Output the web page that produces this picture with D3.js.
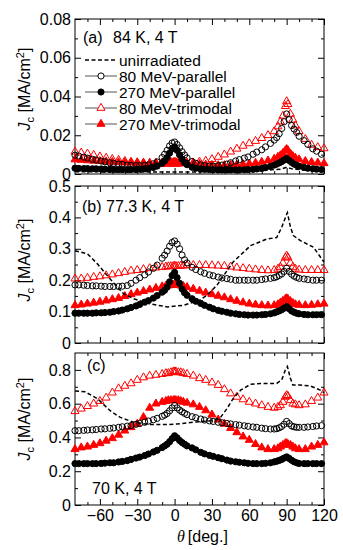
<!DOCTYPE html>
<html>
<head>
<meta charset="utf-8">
<script src="https://cdn.jsdelivr.net/npm/d3@7"></script>
<style>
  body { margin: 0; background: #fff; }
  svg { display: block; font-family: Arial, "Liberation Sans", sans-serif; }
</style>
</head>
<body>
<div id="chart"></div>
<script>
// angles (deg) of the triangle series
const theta = [-80,-75,-70,-65,-60,-55,-50,-45,-40,-35,-30,-25,-20,-15,-10,-7,-5,-3,-1,0,1,3,5,7,10,
  15,20,25,30,35,40,45,50,55,60,65,70,75,80,83,85,87,89,90,91,93,95,97,100,105,110,115,120];
// angles (deg) of the circle series (measured more densely)
const thetaCirc = [-80,-77,-73,-70,-66,-63,-59,-56,-52,-49,-45,-42,-38,-35,-31,-28,-24,-21,-17,-14,-10,
  -8,-6,-4,-2,0,2,4,6,8,10,14,17,21,24,28,31,35,38,42,45,49,52,56,59,63,66,70,73,77,80,
  82,84,86,88,90,92,94,96,98,100,104,107,111,114,118];

const seriesNames = ["unirradiated", "80 MeV-parallel", "270 MeV-parallel", "80 MeV-trimodal", "270 MeV-trimodal"];

// (a) 84 K, 4 T
const a_unirrTheta = [-80,-40,0,40,70,85,90,95,120];
const a_unirr = [0.0012,0.001,0.001,0.0012,0.0018,0.0025,0.0035,0.0025,0.0015];
const a_p80 = [0.0097,0.0093,0.0087,0.0082,0.0076,0.0072,0.0067,0.0063,0.0058,0.0055,0.0051,0.0049,0.0046,0.0044,0.0043,0.0043,0.0045,0.0047,0.0053,0.0062,0.0085,
  0.0102,0.0122,0.0145,0.016,0.0165,0.0152,0.0135,0.0115,0.0098,0.0083,0.0064,0.0055,0.0047,0.0043,0.0041,0.0041,0.0043,0.0046,0.0051,0.0058,0.0067,0.0074,0.0082,0.0088,0.0102,0.0113,0.0125,0.014,0.0158,0.0175,
  0.0188,0.0208,0.0235,0.027,0.031,0.028,0.025,0.0232,0.0215,0.0195,0.0172,0.0153,0.013,0.0118,0.0102];
const a_p270 = [0.003,0.0029,0.0028,0.0028,0.0027,0.0027,0.0026,0.0025,0.0024,0.0024,0.0023,0.0023,0.0023,0.0023,0.0024,0.0025,0.0026,0.0029,0.0034,0.0041,0.0055,
  0.0068,0.0085,0.0108,0.013,0.014,0.0122,0.0099,0.0077,0.0059,0.0048,0.0035,0.003,0.0026,0.0024,0.0023,0.0022,0.0021,0.0021,0.0021,0.0021,0.0021,0.0021,0.0022,0.0023,0.0024,0.0026,0.0029,0.0033,0.0039,0.0046,
  0.0051,0.0057,0.0064,0.0072,0.008,0.007,0.006,0.0051,0.0045,0.004,0.0034,0.003,0.0027,0.0025,0.0023];
const a_t80 = [0.0115,0.011,0.0105,0.0098,0.009,0.0083,0.0077,0.0072,0.0067,0.0063,0.006,0.0057,0.0055,0.0054,0.0053,0.0053,0.0053,0.0053,0.0053,0.0053,0.0053,0.0053,0.0054,0.0055,0.0056,
  0.0059,0.0063,0.0068,0.0076,0.0088,0.01,0.0115,0.013,0.0145,0.0158,0.017,0.0185,0.02,0.022,0.0245,0.027,0.03,0.035,0.0375,0.036,0.031,0.028,0.025,0.022,0.018,0.015,0.0138,0.0132];
const a_t270 = [0.0075,0.0072,0.007,0.0068,0.0066,0.0064,0.0062,0.006,0.0059,0.0058,0.0057,0.0057,0.0057,0.0058,0.0059,0.006,0.006,0.0061,0.0061,0.0061,0.0061,0.006,0.006,0.0059,0.0057,
  0.0054,0.0051,0.0048,0.0046,0.0045,0.0045,0.0046,0.0048,0.005,0.0053,0.0057,0.0062,0.0069,0.0078,0.0088,0.0096,0.0108,0.0122,0.0128,0.0122,0.0105,0.0092,0.0083,0.0075,0.0066,0.0061,0.0058,0.0055];

// (b) 77.3 K, 4 T
const b_unirrTheta = [-80,-70,-62,-52,-46,-41,-33,-20,-6,7,20,26,34,47,61,74,82,86,89.5,90.6,93,95.4,101,111.5,120];
const b_unirr = [0.294,0.284,0.252,0.205,0.178,0.157,0.141,0.125,0.115,0.12,0.136,0.152,0.184,0.258,0.31,0.331,0.336,0.368,0.405,0.415,0.37,0.342,0.326,0.305,0.258];
const b_p80 = [0.185,0.185,0.184,0.183,0.182,0.182,0.181,0.18,0.18,0.18,0.18,0.181,0.183,0.19,0.2,0.208,0.217,0.226,0.238,0.248,0.27,
  0.28,0.293,0.308,0.32,0.325,0.315,0.3,0.28,0.265,0.255,0.241,0.234,0.227,0.222,0.217,0.214,0.21,0.207,0.205,0.203,0.2,0.2,0.2,0.2,0.2,0.2,0.202,0.204,0.206,0.208,
  0.211,0.215,0.22,0.228,0.238,0.228,0.219,0.213,0.209,0.206,0.204,0.202,0.2,0.2,0.2];
const b_p270 = [0.095,0.095,0.095,0.095,0.095,0.096,0.096,0.097,0.098,0.1,0.102,0.105,0.109,0.113,0.118,0.123,0.13,0.135,0.143,0.151,0.162,
  0.168,0.178,0.195,0.215,0.225,0.208,0.19,0.172,0.16,0.152,0.141,0.133,0.126,0.12,0.114,0.109,0.104,0.101,0.098,0.095,0.093,0.091,0.09,0.089,0.089,0.089,0.09,0.091,0.093,0.096,
  0.099,0.102,0.106,0.111,0.116,0.109,0.102,0.098,0.095,0.093,0.091,0.09,0.09,0.09,0.09];
const b_t80 = [0.205,0.205,0.207,0.21,0.212,0.215,0.218,0.222,0.226,0.23,0.232,0.235,0.238,0.24,0.242,0.243,0.244,0.244,0.245,0.245,0.245,0.245,0.246,0.246,0.247,
  0.248,0.248,0.248,0.247,0.246,0.245,0.243,0.24,0.238,0.236,0.234,0.232,0.231,0.232,0.236,0.242,0.255,0.272,0.278,0.272,0.255,0.242,0.236,0.233,0.232,0.232,0.232,0.232];
const b_t270 = [0.12,0.122,0.125,0.128,0.131,0.135,0.139,0.143,0.149,0.155,0.16,0.165,0.17,0.175,0.18,0.182,0.183,0.184,0.185,0.185,0.185,0.184,0.183,0.181,0.178,
  0.172,0.166,0.16,0.155,0.15,0.145,0.139,0.134,0.129,0.125,0.122,0.12,0.119,0.12,0.123,0.128,0.134,0.14,0.142,0.14,0.133,0.127,0.123,0.121,0.12,0.121,0.123,0.125];

// (c) 70 K, 4 T
const c_unirrTheta = [-80,-72,-62,-52,-44,-33,-20,-7,2,15,31,37,42,47,53,61,69,82,86,89,90.6,93,95,101,109,117,120];
const c_unirr = [0.675,0.67,0.63,0.56,0.52,0.49,0.476,0.476,0.48,0.49,0.5,0.52,0.57,0.63,0.68,0.715,0.72,0.72,0.74,0.8,0.82,0.75,0.71,0.71,0.705,0.68,0.665];
const c_p80 = [0.44,0.44,0.442,0.444,0.445,0.447,0.45,0.451,0.454,0.456,0.46,0.463,0.467,0.47,0.478,0.483,0.49,0.497,0.505,0.513,0.525,
  0.532,0.542,0.558,0.575,0.59,0.575,0.562,0.552,0.543,0.535,0.523,0.517,0.509,0.503,0.498,0.495,0.49,0.487,0.483,0.48,0.476,0.473,0.469,0.466,0.462,0.46,0.455,0.452,0.45,0.45,
  0.452,0.457,0.465,0.478,0.495,0.482,0.468,0.463,0.46,0.46,0.46,0.462,0.465,0.468,0.47];
const c_p270 = [0.245,0.245,0.245,0.245,0.245,0.245,0.246,0.248,0.25,0.25,0.255,0.258,0.263,0.27,0.278,0.284,0.293,0.302,0.314,0.324,0.34,
  0.35,0.36,0.375,0.393,0.41,0.398,0.382,0.37,0.36,0.35,0.338,0.327,0.312,0.303,0.294,0.288,0.28,0.274,0.266,0.26,0.256,0.253,0.25,0.247,0.245,0.245,0.245,0.247,0.25,0.255,
  0.259,0.264,0.27,0.278,0.285,0.276,0.265,0.256,0.25,0.246,0.245,0.245,0.245,0.245,0.245];
const c_t80 = [0.555,0.57,0.585,0.6,0.615,0.635,0.665,0.69,0.705,0.72,0.74,0.755,0.765,0.77,0.775,0.78,0.78,0.785,0.79,0.79,0.79,0.785,0.785,0.78,0.775,
  0.765,0.75,0.74,0.725,0.71,0.685,0.66,0.64,0.625,0.61,0.6,0.59,0.58,0.575,0.58,0.59,0.61,0.64,0.65,0.645,0.62,0.6,0.595,0.59,0.595,0.615,0.635,0.665];
const c_t270 = [0.33,0.34,0.345,0.355,0.365,0.38,0.395,0.415,0.44,0.46,0.48,0.52,0.575,0.6,0.61,0.615,0.62,0.62,0.62,0.62,0.62,0.62,0.615,0.61,0.605,
  0.595,0.58,0.56,0.535,0.505,0.48,0.455,0.43,0.405,0.385,0.36,0.34,0.33,0.33,0.335,0.345,0.355,0.365,0.365,0.36,0.355,0.345,0.335,0.33,0.33,0.345,0.355,0.37];

// ticks
const xTicks = [-60,-30,0,30,60,90,120];
const xMinor = [-70,-50,-40,-20,-10,10,20,40,50,70,80,100,110];
const yTicksA = [0,0.02,0.04,0.06,0.08], yMinorA = [0.01,0.03,0.05,0.07];
const yTicksB = [0,0.1,0.2,0.3,0.4,0.5], yMinorB = [0.05,0.15,0.25,0.35,0.45];
const yTicksC = [0,0.2,0.4,0.6,0.8], yMinorC = [0.1,0.3,0.5,0.7];

let width = 343, height = 550;
let left = 75, right = 324;

let svg = d3.select('#chart')
  .append('svg')
  .attr('width', width)
  .attr('height', height);

let xScale = d3.scaleLinear().domain([-80, 120]).range([left, right]);

const red = '#ff0000';

// panel layout
let panels = [
  {top: 19, bottom: 174, max: 0.08, ticks: yTicksA, minor: yMinorA, fmt: '.2f', labelY: 89,
   unirr: [a_unirrTheta, a_unirr], p80: a_p80, p270: a_p270, t80: a_t80, t270: a_t270},
  {top: 186, bottom: 343, max: 0.5, ticks: yTicksB, minor: yMinorB, fmt: '.1f', labelY: 260,
   unirr: [b_unirrTheta, b_unirr], p80: b_p80, p270: b_p270, t80: b_t80, t270: b_t270},
  {top: 353, bottom: 505, max: 0.9, ticks: yTicksC, minor: yMinorC, fmt: '.1f', labelY: 419,
   unirr: [c_unirrTheta, c_unirr], p80: c_p80, p270: c_p270, t80: c_t80, t270: c_t270}
];

function styleAxis(g) {
  g.select('.domain').remove();
  g.selectAll('line').attr('stroke', '#000');
  g.selectAll('text').attr('fill', '#000').style('font-size', '16px');
}

panels.forEach(function(p, idx) {
  let yScale = d3.scaleLinear().domain([0, p.max]).range([p.bottom, p.top]);
  let fmt = d => d === 0 ? '0' : d3.format(p.fmt)(d);

  // ticks, all pointing inward
  svg.append('g').attr('transform', `translate(${left},0)`)
    .call(d3.axisLeft(yScale).tickValues(p.ticks).tickSize(-6).tickPadding(4).tickFormat(fmt))
    .call(styleAxis);
  svg.append('g').attr('transform', `translate(${left},0)`)
    .call(d3.axisLeft(yScale).tickValues(p.minor).tickSize(-3).tickFormat(''))
    .call(styleAxis);
  svg.append('g').attr('transform', `translate(${right},0)`)
    .call(d3.axisRight(yScale).tickValues(p.ticks).tickSize(-6).tickFormat(''))
    .call(styleAxis);
  svg.append('g').attr('transform', `translate(${right},0)`)
    .call(d3.axisRight(yScale).tickValues(p.minor).tickSize(-3).tickFormat(''))
    .call(styleAxis);
  svg.append('g').attr('transform', `translate(0,${p.top})`)
    .call(d3.axisTop(xScale).tickValues(xTicks).tickSize(-6).tickFormat(''))
    .call(styleAxis);
  svg.append('g').attr('transform', `translate(0,${p.top})`)
    .call(d3.axisTop(xScale).tickValues(xMinor).tickSize(-3).tickFormat(''))
    .call(styleAxis);
  svg.append('g').attr('transform', `translate(0,${p.bottom})`)
    .call(d3.axisBottom(xScale).tickValues(xTicks).tickSize(-6).tickPadding(5)
      .tickFormat(idx === 2 ? d3.format('d') : ''))
    .call(styleAxis);
  svg.append('g').attr('transform', `translate(0,${p.bottom})`)
    .call(d3.axisBottom(xScale).tickValues(xMinor).tickSize(-3).tickFormat(''))
    .call(styleAxis);

  // frame
  svg.append('rect')
    .attr('x', left).attr('y', p.top)
    .attr('width', right - left).attr('height', p.bottom - p.top)
    .attr('fill', 'none').attr('stroke', '#000').attr('stroke-width', 1);

  let g = svg.append('g');

  // red triangles
  [[p.t80, false], [p.t270, true]].forEach(function(s) {
    g.selectAll(null)
      .data(d3.zip(theta, s[0]))
      .enter().append('path')
      .attr('d', d3.symbol(d3.symbolTriangle, 28))
      .attr('transform', d => `translate(${xScale(d[0])},${yScale(d[1])})`)
      .attr('fill', s[1] ? red : 'none')
      .attr('stroke', red)
      .attr('stroke-width', 1);
  });

  // black circles
  [[p.p80, false], [p.p270, true]].forEach(function(s) {
    g.selectAll(null)
      .data(d3.zip(thetaCirc, s[0]))
      .enter().append('circle')
      .attr('cx', d => xScale(d[0]))
      .attr('cy', d => yScale(d[1]))
      .attr('r', 3.1)
      .attr('fill', s[1] ? '#000' : 'none')
      .attr('stroke', '#000')
      .attr('stroke-width', 1);
  });

  // unirradiated, dashed line
  let line = d3.line().x(d => xScale(d[0])).y(d => yScale(d[1]));
  g.append('path')
    .datum(d3.zip(p.unirr[0], p.unirr[1]))
    .attr('d', line)
    .attr('fill', 'none')
    .attr('stroke', '#000')
    .attr('stroke-width', 1.5)
    .attr('stroke-dasharray', '4,2.5');

  // y-axis label
  let lab = svg.append('text')
    .attr('transform', `translate(30,${p.labelY}) rotate(-90)`)
    .attr('text-anchor', 'middle')
    .style('font-size', '16px');
  lab.append('tspan').text('J').style('font-style', 'italic');
  lab.append('tspan').text('c').style('font-size', '11px').attr('dy', 4);
  lab.append('tspan').text(' [MA/cm').attr('dy', -4);
  lab.append('tspan').text('2').style('font-size', '11px').attr('dy', -6);
  lab.append('tspan').text(']').attr('dy', 6);
});

// panel titles
svg.append('text').attr('x', 83).attr('y', 43).style('font-size', '16px').text('(a)');
svg.append('text').attr('x', 113).attr('y', 43).style('font-size', '16px').text('84 K, 4 T');
svg.append('text').attr('x', 82).attr('y', 212).style('font-size', '16px').text('(b) 77.3 K, 4 T');
svg.append('text').attr('x', 87).attr('y', 371).style('font-size', '16px').text('(c)');
svg.append('text').attr('x', 92).attr('y', 494).style('font-size', '16px').text('70 K, 4 T');

// x-axis label
let xl = svg.append('text').attr('x', 177).attr('y', 542).style('font-size', '16px');
xl.append('tspan').text('\u03b8').style('font-style', 'italic').style('font-family', '"Liberation Serif", "DejaVu Serif", serif');
xl.append('tspan').text('[deg.]').attr('dx', 3);

// legend
const legend = svg.selectAll('.legend')
  .data(seriesNames)
  .enter().append('g')
  .attr('class', 'legend')
  .attr('transform', (d, i) => `translate(0,${60 + i * 16})`);

legend.append('line')
  .attr('x1', 85).attr('x2', 117)
  .attr('stroke', (d, i) => i === 0 ? '#000' : '#555')
  .attr('stroke-width', (d, i) => i === 0 ? 1.5 : 1)
  .attr('stroke-dasharray', (d, i) => i === 0 ? '4,2.5' : null);

legend.filter((d, i) => i === 1 || i === 2).append('circle')
  .attr('cx', 101).attr('r', 3.1)
  .attr('fill', (d, i) => i === 1 ? '#000' : '#fff')
  .attr('stroke', '#000');

legend.filter((d, i) => i >= 3).append('path')
  .attr('d', d3.symbol(d3.symbolTriangle, 28))
  .attr('transform', 'translate(101,0)')
  .attr('fill', (d, i) => i === 1 ? red : '#fff')
  .attr('stroke', red);

legend.append('text')
  .attr('x', 119)
  .attr('dy', '0.36em')
  .style('font-size', '15.5px')
  .text(d => d);
</script>
</body>
</html>
